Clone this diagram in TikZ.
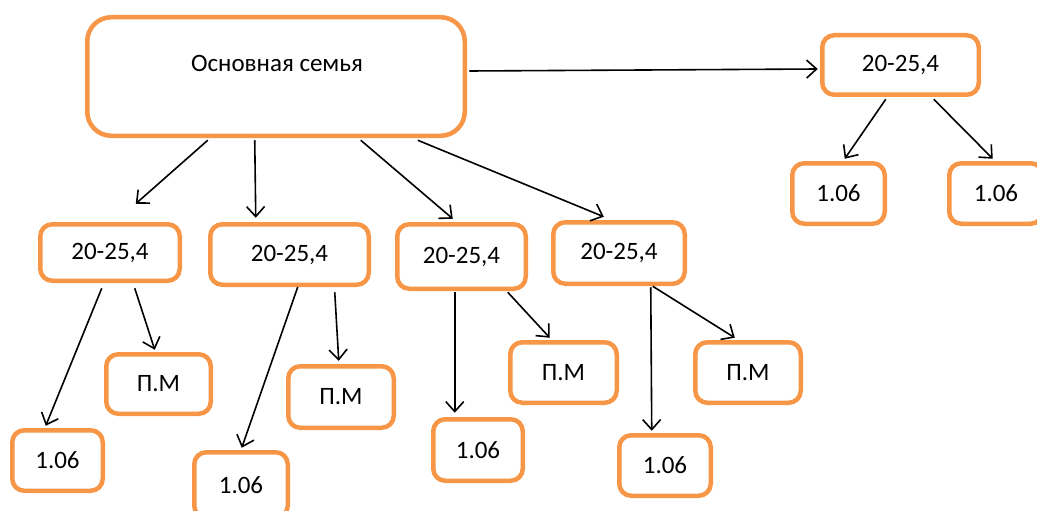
\documentclass[tikz,border=0pt]{standalone}
\usepackage{fontspec}
\setmainfont{Carlito}
\usetikzlibrary{calc,arrows.meta}
\definecolor{boxorange}{HTML}{F79646}
\tikzset{
  box/.style={draw=boxorange, line width=4.5pt, rounded corners=12pt, inner sep=0pt, fill=white,
    font=\fontsize{25}{30}\selectfont},
  conn/.style={draw=black, line width=1.6pt, -{Straight Barb[length=10pt,width=18pt,line width=1.6pt]}},
}
\begin{document}
\begin{tikzpicture}[x=1pt,y=-1pt]
\useasboundingbox (0,0) rectangle (1037,511);
% main box
\node[box, rounded corners=24pt, minimum width=377.5pt, minimum height=118.5pt] (main) at (276,76.5) {};
\node[inner sep=0pt, font=\fontsize{25}{30}\selectfont] (maintext) at (277,63) {Основная семья};
% right branch
\node[box, minimum width=156.5pt, minimum height=59.5pt] (a) at (900.5,65) {20-25,4};
\node[box, minimum width=92.5pt, minimum height=60.5pt] (r1) at (838.5,193.5) {1.06};
\node[box, minimum width=93.5pt, minimum height=60.5pt] (r2) at (996,193.5) {1.06};
% second level
\node[box, minimum width=139.5pt, minimum height=56.5pt] (b1) at (110,252.5) {20-25,4};
\node[box, minimum width=158.5pt, minimum height=60.5pt] (b2) at (289.5,254.5) {20-25,4};
\node[box, minimum width=128.5pt, minimum height=64.5pt] (b3) at (461.5,256.5) {20-25,4};
\node[box, minimum width=131.5pt, minimum height=61.5pt] (b4) at (619,253) {20-25,4};
% third level
\node[box, minimum width=90.5pt, minimum height=60.5pt] (l1) at (57.5,460.5) {1.06};
\node[box, minimum width=104.5pt, minimum height=59.5pt] (p1) at (158.5,384) {П.М};
\node[box, minimum width=93.5pt, minimum height=65.5pt] (l2) at (241,485) {1.06};
\node[box, minimum width=105.5pt, minimum height=61.5pt] (p2) at (341,397) {П.М};
\node[box, minimum width=89.5pt, minimum height=61.5pt] (l3) at (478,450) {1.06};
\node[box, minimum width=106.5pt, minimum height=60.5pt] (p3) at (563.5,372.5) {П.М};
\node[box, minimum width=91.5pt, minimum height=60.5pt] (l4) at (665,465.5) {1.06};
\node[box, minimum width=105.5pt, minimum height=60.5pt] (p4) at (748,372.5) {П.М};
% connectors
\draw[conn] ($(main.east)+(2.25,-5.5)$) -- ($(a.west)+(-2.25,4)$);
\draw[conn] ($(main.south west)+(122.75,2.25)$) -- ($(b1.north west)+(97.75,-18.25)$);
\draw[conn] ($(main.south west)+(169.75,2.25)$) -- ($(b2.north west)+(47.75,-4.25)$);
\draw[conn] ($(main.south west)+(275.75,2.25)$) -- ($(b3.north west)+(57.75,-3.25)$);
\draw[conn] ($(main.south west)+(332.75,2.25)$) -- ($(b4.north west)+(52.75,-3.25)$);
\draw[conn] ($(a.south west)+(65.75,2.25)$) -- ($(r1.north west)+(54.75,-2.25)$);
\draw[conn] ($(a.south west)+(113.75,2.25)$) -- ($(r2.north west)+(45.75,-2.25)$);
\draw[conn] ($(b1.south west)+(63.75,5.25)$) -- ($(l1.north west)+(35.75,-2.25)$);
\draw[conn] ($(b1.south west)+(96.75,5.25)$) -- ($(p1.north west)+(50.75,-2.25)$);
\draw[conn] ($(b2.south west)+(89.75,0)$) -- ($(l2.north west)+(49.75,-2.25)$);
\draw[conn] ($(b2.south west)+(126.75,5.25)$) -- ($(p2.north west)+(52.75,-3.25)$);
\draw[conn] ($(b3.south west)+(59.75,1.25)$) -- ($(l3.north west)+(23.75,-4.25)$);
\draw[conn] ($(b3.south west)+(112.75,1.25)$) -- ($(p3.north west)+(41.75,-2.25)$);
\draw[conn] ($(b4.south west)+(99.75,1.25)$) -- ($(l4.north west)+(34.75,-2.25)$);
\draw[conn] ($(b4.south west)+(101.75,0.25)$) -- ($(p4.north west)+(41.75,-2.25)$);
\end{tikzpicture}
\end{document}
